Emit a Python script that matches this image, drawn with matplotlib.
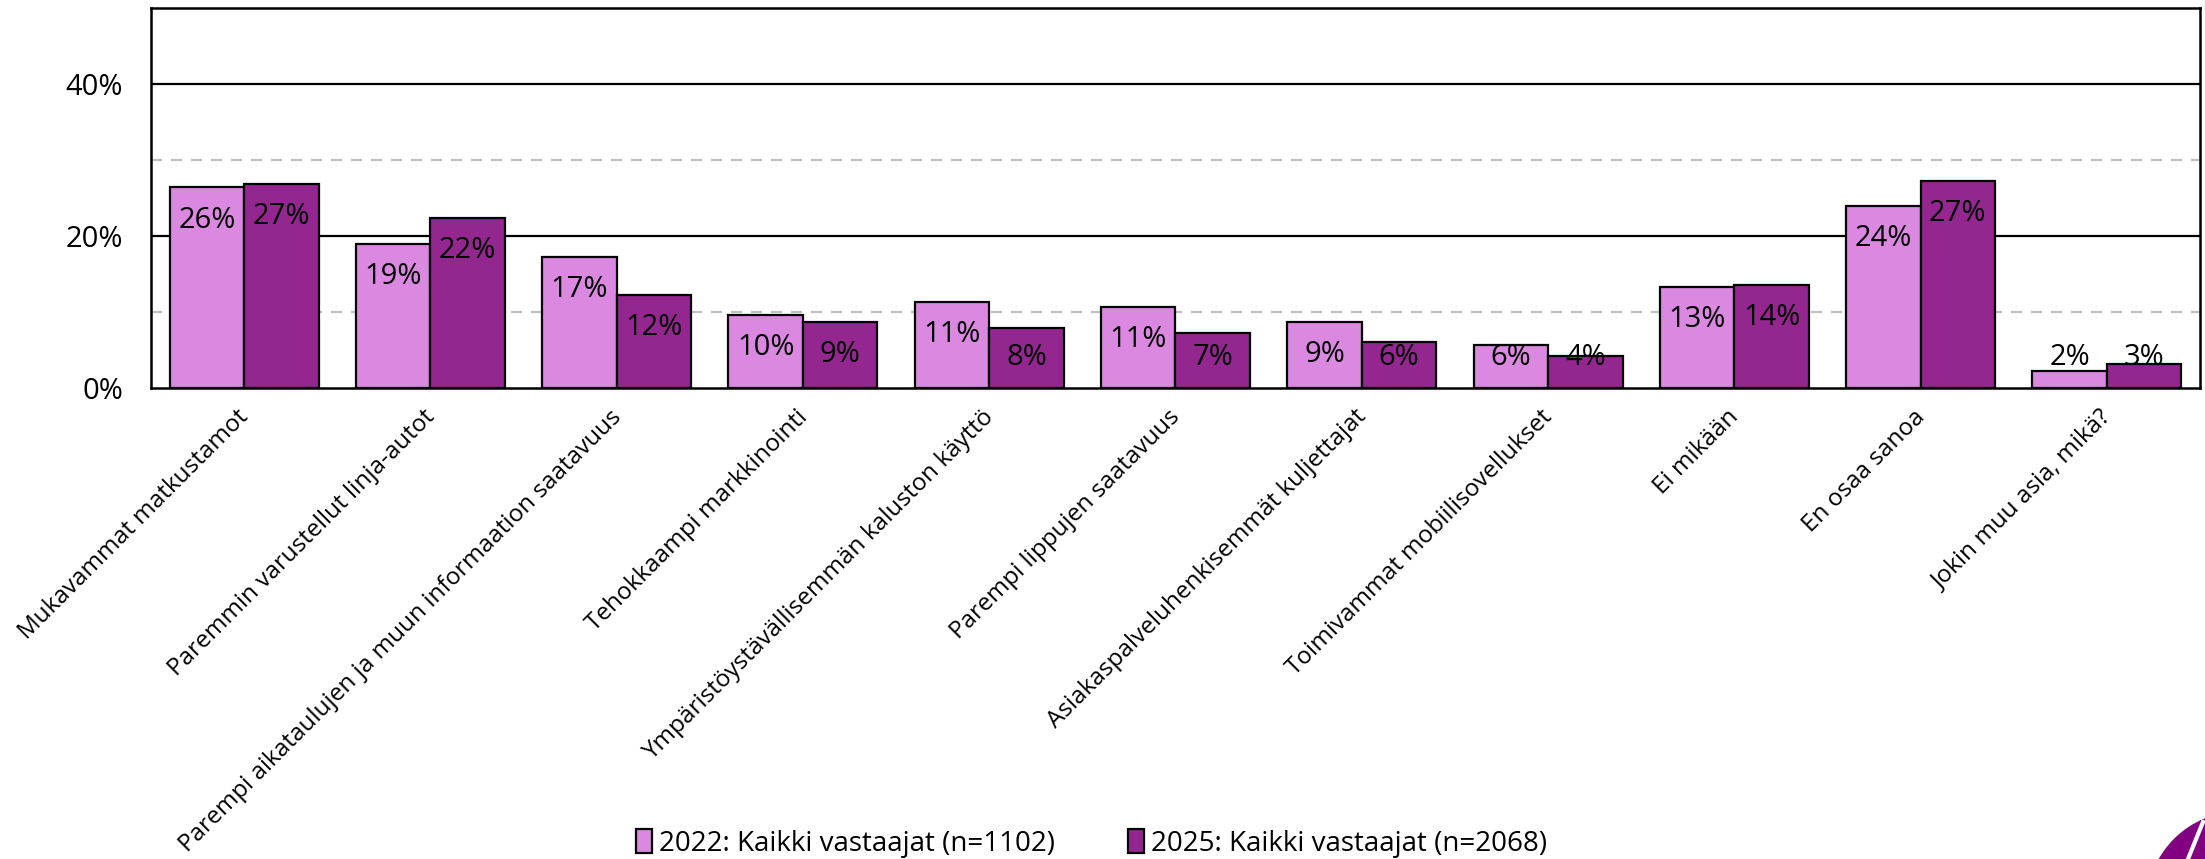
import numpy as np
import matplotlib
matplotlib.use("Agg")
import matplotlib.pyplot as plt
from matplotlib.patches import Ellipse
from matplotlib.lines import Line2D

# Data (percent)
categories = [
    "Mukavammat matkustamot",
    "Paremmin varustellut linja-autot",
    "Parempi aikataulujen ja muun informaation saatavuus",
    "Tehokkaampi markkinointi",
    "Ympäristöystävällisemmän kaluston käyttö",
    "Parempi lippujen saatavuus",
    "Asiakaspalveluhenkisemmät kuljettajat",
    "Toimivammat mobiilisovellukset",
    "Ei mikään",
    "En osaa sanoa",
    "Jokin muu asia, mikä?",
]
vals_2022 = [26.4, 19.0, 17.3, 9.6, 11.3, 10.7, 8.7, 5.7, 13.3, 24.0, 2.2]
vals_2025 = [26.9, 22.4, 12.2, 8.7, 7.9, 7.3, 6.0, 4.2, 13.6, 27.3, 3.2]
series_names = ["2022: Kaikki vastaajat (n=1102)", "2025: Kaikki vastaajat (n=2068)"]
ytick_vals = [0, 20, 40]
ytick_labels = ["0%", "20%", "40%"]

pink = "#DB88E1"
purple = "#93278F"
font = "Open Sans"

fig = plt.figure(figsize=(22.05, 8.59), dpi=100)
ax = fig.add_axes([0.0685, 0.5483, 0.9292, 0.4424])

x = np.arange(len(categories))
w = 0.4
b1 = ax.bar(x - w / 2, vals_2022, w, color=pink, edgecolor="black", linewidth=1.6,
            label=series_names[0], zorder=3)
b2 = ax.bar(x + w / 2, vals_2025, w, color=purple, edgecolor="black", linewidth=1.6,
            label=series_names[1], zorder=3)

# value labels, inside end, pushed up when bar is short
for xs, vs in [(x - w / 2, vals_2022), (x + w / 2, vals_2025)]:
    for xi, v in zip(xs, vs):
        ax.text(xi, max(v - 4.3, 4.0), "%d%%" % round(v), ha="center", va="center",
                fontsize=21, family=font, zorder=4)

ax.set_xlim(-0.5, len(categories) - 0.5)
ax.set_ylim(0, 50)

# gridlines: solid at 20/40, dashed grey at 10/30
for g in [20, 40]:
    ax.axhline(g, color="black", lw=1.6, zorder=1)
for g in [10, 30]:
    ax.axhline(g, color="#BFBFBF", lw=1.6, ls=(0, (5, 4)), zorder=1)

ax.set_yticks(ytick_vals)
ax.set_yticklabels(ytick_labels, fontsize=21, family=font)
ax.tick_params(axis="y", length=0, pad=20)
ax.set_xticks(x)
ax.set_xticklabels([])
ax.tick_params(axis="x", length=0)

# category labels, rotated, ending at the group centre
for xi, cat in zip(x, categories):
    ax.text(xi - 0.04, -0.045, cat, transform=ax.get_xaxis_transform(),
            rotation=45, rotation_mode="anchor", ha="right", va="top",
            fontsize=17.5, family=font)

for s in ax.spines.values():
    s.set_color("black")
    s.set_linewidth(1.8)

leg = fig.legend(handles=[b1, b2], loc="center", bbox_to_anchor=(0.495, 0.018),
                 ncol=2, frameon=False, handlelength=0.6, handleheight=0.9,
                 handletextpad=0.25, columnspacing=2.6,
                 prop={"family": font, "size": 20})

# partial logo in the bottom-right corner
fig.add_artist(Ellipse((1.016, -0.0536), 2 * 93 / 2205, 2 * 93 / 859,
                       color="#800080", transform=fig.transFigure))
fig.add_artist(Line2D([2203 / 2205, 2188 / 2205], [37 / 859, 0], color="white",
                      lw=3, transform=fig.transFigure))

fig.savefig("out.png", dpi=100)
